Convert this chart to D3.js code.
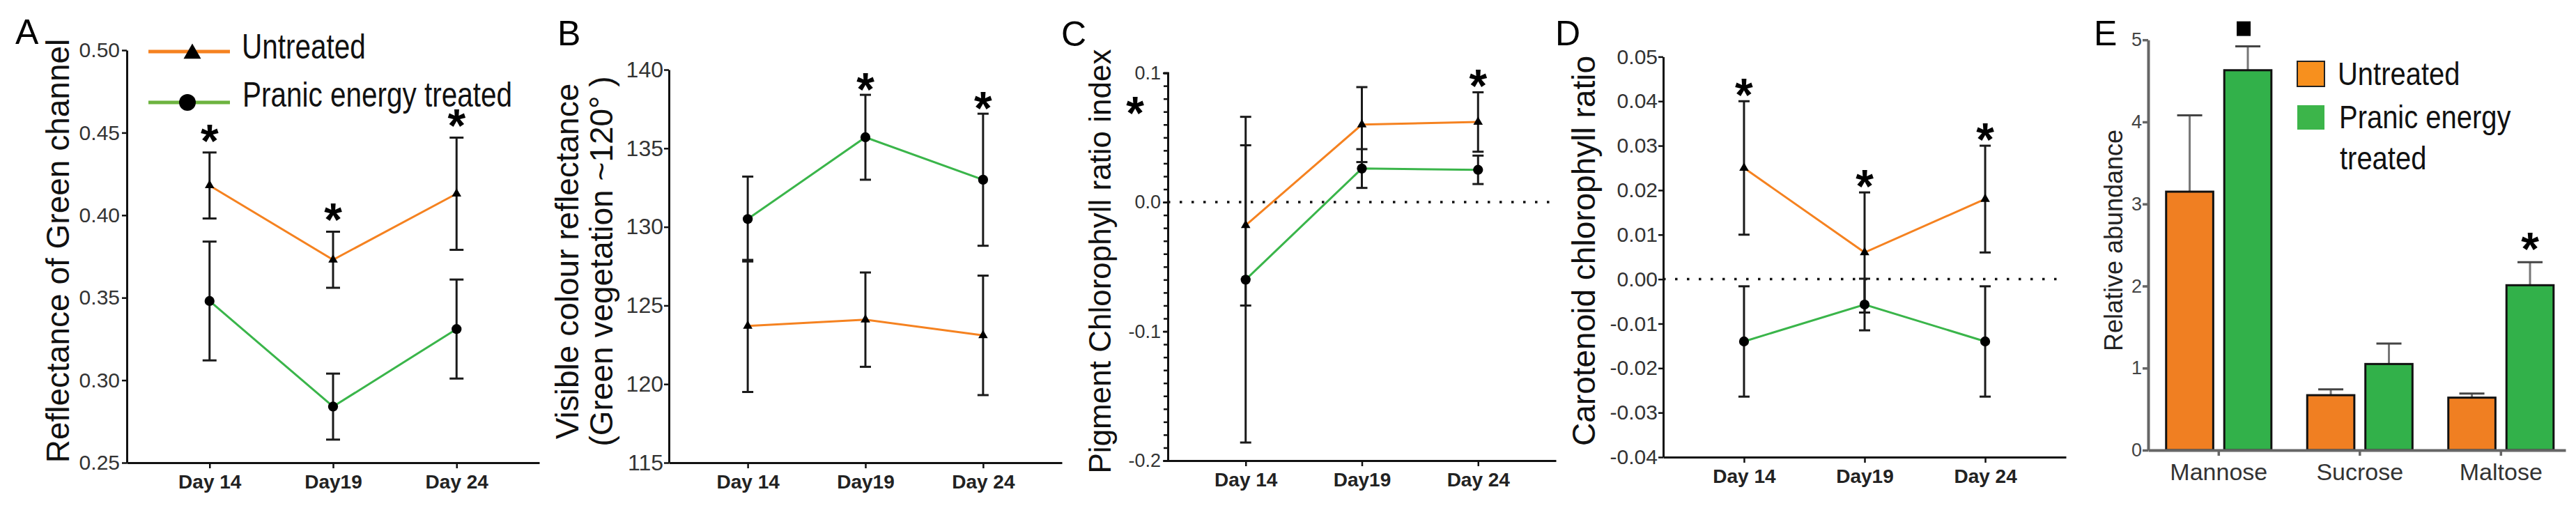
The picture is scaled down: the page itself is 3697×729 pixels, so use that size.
<!DOCTYPE html>
<html>
<head>
<meta charset="utf-8">
<script src="https://cdn.jsdelivr.net/npm/d3@7"></script>
<style>
  body { margin: 0; background: #fff; }
  svg { display: block; }
  text { font-family: 'Liberation Sans', Arial, sans-serif; }
</style>
</head>
<body>
<svg id="chart" width="3697" height="729"></svg>
<script>
// ---- data ----
const days = ['Day 14', 'Day19', 'Day 24'];

// A: reflectance of green channel
const greenUntreated = [0.418, 0.373, 0.413];
const greenUntreatedErr = [0.020, 0.017, 0.034];
const greenTreated = [0.348, 0.284, 0.331];
const greenTreatedErr = [0.036, 0.020, 0.030];
const greenTicks = [0.25, 0.30, 0.35, 0.40, 0.45, 0.50];
const greenStars = [true, true, true];

// B: visible colour reflectance (hue)
const hueUntreated = [123.7, 124.1, 123.1];
const hueUntreatedErr = [4.2, 3.0, 3.8];
const hueTreated = [130.5, 135.7, 133.0];
const hueTreatedErr = [2.7, 2.7, 4.2];
const hueTicks = [115, 120, 125, 130, 135, 140];
const hueStars = [false, true, true];

// C: pigment chlorophyll ratio index
const pcriUntreated = [-0.018, 0.060, 0.062];
const pcriUntreatedErr = [0.062, 0.029, 0.023];
const pcriTreated = [-0.060, 0.026, 0.025];
const pcriTreatedErr = [0.126, 0.015, 0.011];
const pcriTicks = [-0.2, -0.1, 0.0, 0.1];
const pcriStars = [false, false, true];

// D: carotenoid chlorophyll ratio
const carUntreated = [0.025, 0.006, 0.018];
const carUntreatedErr = [0.015, 0.0135, 0.012];
const carTreated = [-0.014, -0.0057, -0.014];
const carTreatedErr = [0.0124, 0.0058, 0.0124];
const carTicks = [-0.04, -0.03, -0.02, -0.01, 0.00, 0.01, 0.02, 0.03, 0.04, 0.05];
const carStars = [true, true, true];

// E: sugars
const sugars = ['Mannose', 'Sucrose', 'Maltose'];
const sugarUntreated = [3.15, 0.67, 0.64];
const sugarUntreatedErr = [0.93, 0.07, 0.05];
const sugarTreated = [4.63, 1.05, 2.01];
const sugarTreatedErr = [0.29, 0.25, 0.28];
const sugarTicks = [0, 1, 2, 3, 4, 5];
const sugarMarks = ['square', '', 'star'];

const ORANGE = '#f58220';
const GREEN = '#3ab54a';
const STAR = 66;

const svg = d3.select('#chart');

// asterisk centred on (x, cy)
const star = (g, x, cy) =>
  g.append('text')
    .attr('x', x)
    .attr('y', cy + STAR * 0.575)
    .attr('text-anchor', 'middle')
    .attr('font-size', STAR)
    .attr('font-weight', 'bold')
    .attr('fill', '#000')
    .text('*');

// the legend lettering in the figure is horizontally squeezed
const narrowText = (g, t, x, y, size, sx) =>
  g.append('text')
    .attr('transform', `translate(${x},${y}) scale(${sx},1)`)
    .attr('font-size', size)
    .attr('fill', '#111')
    .text(t);

const styleAxis = (a, size, weight, fill, stroke, width) => {
  a.select('.domain').attr('stroke', stroke).attr('stroke-width', width);
  a.selectAll('.tick line').attr('stroke', stroke).attr('stroke-width', width - 0.5);
  a.selectAll('.tick text')
    .attr('font-size', size)
    .attr('font-weight', weight)
    .attr('fill', fill)
    .style('font-family', "'Liberation Sans', Arial, sans-serif");
};

const linePanel = (o) => {
  const g = svg.append('g');

  const x = d3.scalePoint().domain(days).range([o.left, o.right]).padding(0.67);
  const y = d3.scaleLinear().domain(o.domain).range([o.bottom, o.top]);

  if (o.zero) {
    g.append('line')
      .attr('x1', o.left).attr('x2', o.right - 4)
      .attr('y1', y(0)).attr('y2', y(0))
      .attr('stroke', '#111')
      .attr('stroke-width', 3.5)
      .style('stroke-dasharray', '3.5, 13.5');
  }

  // minor ticks first, then labelled ones
  if (o.minor) {
    const minor = g.append('g')
      .attr('transform', `translate(${o.left},0)`)
      .call(d3.axisLeft(y).tickValues(o.minor).tickSize(6).tickFormat(''));
    styleAxis(minor, 0, 'normal', '#333', '#111', 3);
  }
  const yAxis = g.append('g')
    .attr('transform', `translate(${o.left},0)`)
    .call(d3.axisLeft(y).tickValues(o.ticks).tickSize(7).tickSizeOuter(0)
      .tickPadding(o.pad).tickFormat((d) => d.toFixed(o.digits)));
  styleAxis(yAxis, o.tickFont, 'normal', '#333', '#111', 3);

  const xAxis = g.append('g')
    .attr('transform', `translate(0,${o.bottom})`)
    .call(d3.axisBottom(x).tickSize(8).tickSizeOuter(0).tickPadding(9));
  styleAxis(xAxis, 28, 'bold', '#222', '#111', 3);

  const series = [
    { v: o.untreated, e: o.untreatedErr, color: ORANGE, shape: d3.symbolTriangle, size: 80 },
    { v: o.treated, e: o.treatedErr, color: GREEN, shape: d3.symbolCircle, size: 160 },
  ];

  const line = d3.line().x((d, i) => x(days[i])).y((d) => y(d));

  series.forEach((s) => {
    g.append('path')
      .datum(s.v)
      .attr('d', line)
      .attr('fill', 'none')
      .attr('stroke', s.color)
      .attr('stroke-width', 3);
  });

  series.forEach((s) => {
    const bars = g.selectAll(null).data(s.v).join('g')
      .attr('stroke', '#1a1a1a')
      .attr('stroke-width', 3);
    bars.append('line')
      .attr('x1', (d, i) => x(days[i])).attr('x2', (d, i) => x(days[i]))
      .attr('y1', (d, i) => y(d - s.e[i])).attr('y2', (d, i) => y(d + s.e[i]));
    [-1, 1].forEach((k) => {
      bars.append('line')
        .attr('x1', (d, i) => x(days[i]) - o.cap).attr('x2', (d, i) => x(days[i]) + o.cap)
        .attr('y1', (d, i) => y(d + k * s.e[i])).attr('y2', (d, i) => y(d + k * s.e[i]));
    });
  });

  series.forEach((s) => {
    g.selectAll(null).data(s.v).join('path')
      .attr('d', d3.symbol(s.shape, s.size))
      .attr('transform', (d, i) => `translate(${x(days[i])},${y(d)})`)
      .attr('fill', '#000');
  });

  // significance stars above the upper series
  const top = o.starOver === 'treated' ? series[1] : series[0];
  o.stars.forEach((on, i) => {
    if (on) star(g, x(days[i]), y(top.v[i] + top.e[i]) - o.starGap);
  });

  // panel letter
  g.append('text')
    .attr('x', o.letterX).attr('y', o.letterY)
    .attr('font-size', 50)
    .attr('fill', '#000')
    .text(o.letter);

  // y title (one or two lines)
  o.title.forEach((t, k) => {
    g.append('text')
      .attr('transform', `translate(${o.titleX[k]},${o.titleY}) rotate(-90)`)
      .attr('text-anchor', 'middle')
      .attr('font-size', o.titleFont)
      .attr('fill', '#111')
      .text(t);
  });

  return { g, x, y };
};

// ---- A ----
linePanel({
  left: 182, right: 774, top: 72, bottom: 664,
  domain: [0.25, 0.50], ticks: greenTicks, digits: 2, tickFont: 30, pad: 3,
  untreated: greenUntreated, untreatedErr: greenUntreatedErr,
  treated: greenTreated, treatedErr: greenTreatedErr,
  stars: greenStars, starOver: 'untreated', starGap: 32, cap: 10,
  letter: 'A', letterX: 22, letterY: 63,
  title: ['Reflectance of Green channel'], titleX: [99], titleY: 360, titleFont: 46,
});

// legend A
const legA = svg.append('g');
legA.append('line').attr('x1', 213).attr('x2', 330).attr('y1', 74).attr('y2', 74)
  .attr('stroke', ORANGE).attr('stroke-width', 5);
legA.append('path').attr('d', d3.symbol(d3.symbolTriangle, 270))
  .attr('transform', 'translate(276,77)').attr('fill', '#000');
legA.append('line').attr('x1', 213).attr('x2', 330).attr('y1', 147).attr('y2', 147)
  .attr('stroke', '#6db33f').attr('stroke-width', 5);
legA.append('circle').attr('cx', 269).attr('cy', 147).attr('r', 12).attr('fill', '#000');
narrowText(legA, 'Untreated', 347, 84, 50, 0.81);
narrowText(legA, 'Pranic energy treated', 348, 153, 50, 0.81);

// ---- B ----
linePanel({
  left: 960, right: 1524, top: 100, bottom: 664,
  domain: [115, 140], ticks: hueTicks, digits: 0, tickFont: 32, pad: 1,
  untreated: hueUntreated, untreatedErr: hueUntreatedErr,
  treated: hueTreated, treatedErr: hueTreatedErr,
  stars: hueStars, starOver: 'treated', starGap: 23, cap: 8,
  letter: 'B', letterX: 800, letterY: 65,
  title: ['Visible colour reflectance', '(Green vegetation ~120° )'],
  titleX: [830, 879], titleY: 375, titleFont: 46,
});

// ---- C ----
const C = linePanel({
  left: 1676, right: 2233, top: 104.6, bottom: 661,
  domain: [-0.2, 0.1], ticks: pcriTicks, digits: 1, tickFont: 27, pad: 3,
  minor: d3.range(-20, 11).map((d) => d / 100),
  zero: true,
  untreated: pcriUntreated, untreatedErr: pcriUntreatedErr,
  treated: pcriTreated, treatedErr: pcriTreatedErr,
  stars: pcriStars, starOver: 'untreated', starGap: 24, cap: 8,
  letter: 'C', letterX: 1523, letterY: 66,
  title: ['Pigment Chlorophyll ratio index'], titleX: [1594], titleY: 375, titleFont: 44,
});
// stray asterisk sitting beside the C axis
star(C.g, 1629, C.y(0.077));

// ---- D ----
linePanel({
  left: 2387, right: 2965, top: 81.4, bottom: 656,
  domain: [-0.04, 0.05], ticks: carTicks, digits: 2, tickFont: 30, pad: 1,
  zero: true,
  untreated: carUntreated, untreatedErr: carUntreatedErr,
  treated: carTreated, treatedErr: carTreatedErr,
  stars: carStars, starOver: 'untreated', starGap: 24, cap: 8,
  letter: 'D', letterX: 2232, letterY: 65,
  title: ['Carotenoid chlorophyll ratio'], titleX: [2289], titleY: 360, titleFont: 46,
});

// ---- E: bar chart ----
const gE = svg.append('g');
const eSize = { left: 3083, right: 3682, top: 57.2, bottom: 646 };

const x0 = d3.scaleBand().domain(sugars).range([eSize.left, eSize.right])
  .paddingInner(0.254).paddingOuter(0.106).align(0.6);
const x1 = d3.scaleBand().domain(['untreated', 'treated']).range([0, x0.bandwidth()])
  .paddingInner(0.19);
const yE = d3.scaleLinear().domain([0, 5]).range([eSize.bottom, eSize.top]);

const eSeries = [
  { key: 'untreated', v: sugarUntreated, e: sugarUntreatedErr, fill: '#f07f22' },
  { key: 'treated', v: sugarTreated, e: sugarTreatedErr, fill: '#32b14a' },
];

eSeries.forEach((s) => {
  const grp = gE.selectAll(null).data(s.v).join('g');
  const cx = (d, i) => x0(sugars[i]) + x1(s.key) + x1.bandwidth() / 2;
  grp.append('line')
    .attr('x1', cx).attr('x2', cx)
    .attr('y1', (d) => yE(d)).attr('y2', (d, i) => yE(d + s.e[i]))
    .attr('stroke', '#777').attr('stroke-width', 3);
  grp.append('line')
    .attr('x1', (d, i) => cx(d, i) - 18).attr('x2', (d, i) => cx(d, i) + 18)
    .attr('y1', (d, i) => yE(d + s.e[i])).attr('y2', (d, i) => yE(d + s.e[i]))
    .attr('stroke', '#444').attr('stroke-width', 3);
  grp.append('rect')
    .attr('x', (d, i) => x0(sugars[i]) + x1(s.key))
    .attr('y', (d) => yE(d))
    .attr('width', x1.bandwidth())
    .attr('height', (d) => yE(0) - yE(d))
    .attr('fill', s.fill)
    .attr('stroke', '#111')
    .attr('stroke-width', 3);
});

const yAxisE = gE.append('g')
  .attr('transform', `translate(${eSize.left},0)`)
  .call(d3.axisLeft(yE).tickValues(sugarTicks).tickSize(8).tickSizeOuter(0)
    .tickPadding(1).tickFormat(d3.format('d')));
styleAxis(yAxisE, 27, 'normal', '#444', '#666', 4);

const xAxisE = gE.append('g')
  .attr('transform', `translate(0,${eSize.bottom})`)
  .call(d3.axisBottom(x0).tickSize(8).tickSizeOuter(0).tickPadding(11));
styleAxis(xAxisE, 34, 'normal', '#333', '#666', 4);

// marks above treated bars
sugarMarks.forEach((m, i) => {
  const cx = x0(sugars[i]) + x1('treated') + x1.bandwidth() / 2;
  const topY = yE(sugarTreated[i] + sugarTreatedErr[i]);
  if (m === 'star') star(gE, cx, topY - 34);
  if (m === 'square') {
    gE.append('rect')
      .attr('x', cx - 16).attr('y', topY - 36)
      .attr('width', 20).attr('height', 21)
      .attr('fill', '#000');
  }
});

gE.append('text')
  .attr('x', 3005).attr('y', 65)
  .attr('font-size', 50)
  .text('E');

gE.append('text')
  .attr('transform', 'translate(3046,345) rotate(-90)')
  .attr('text-anchor', 'middle')
  .attr('font-size', 36)
  .attr('fill', '#222')
  .text('Relative abundance');

// legend E
const legE = gE.append('g');
legE.append('rect').attr('x', 3297).attr('y', 88).attr('width', 39).attr('height', 36)
  .attr('fill', '#f7901e').attr('stroke', '#222').attr('stroke-width', 2);
legE.append('rect').attr('x', 3297).attr('y', 151).attr('width', 39).attr('height', 35)
  .attr('fill', '#3cb54a');
narrowText(legE, 'Untreated', 3355, 122, 47, 0.85);
narrowText(legE, 'Pranic energy', 3357, 184, 47, 0.85);
narrowText(legE, 'treated', 3358, 243, 47, 0.85);
</script>
</body>
</html>
